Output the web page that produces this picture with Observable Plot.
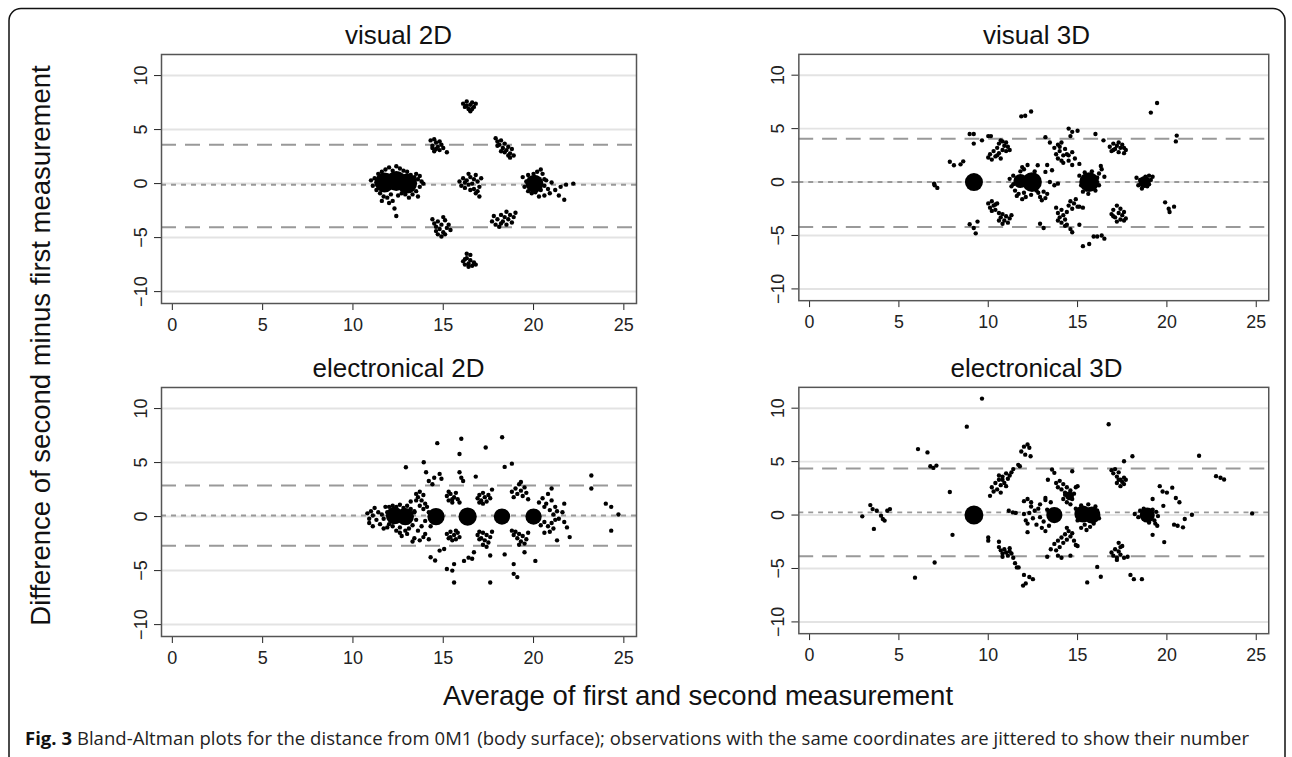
<!DOCTYPE html>
<html><head><meta charset="utf-8">
<script src="https://cdn.jsdelivr.net/npm/d3@7"></script>
<script src="https://cdn.jsdelivr.net/npm/@observablehq/plot@0.6"></script>
<style>
body{margin:0;background:#fff;}
#page{position:relative;width:1292px;height:757px;overflow:hidden;background:#fff;}
.panel{position:absolute;}
#overlay{position:absolute;left:0;top:0;pointer-events:none;}
</style></head>
<body><div id="page"></div>
<script>
// ---- data ----
const panelTitles = ["visual 2D", "visual 3D", "electronical 2D", "electronical 3D"];
const xTicks = [0, 5, 10, 15, 20, 25];
const yTicks = [-10, -5, 0, 5, 10];
const meanDiff = [-0.1, 0.0, 0.1, 0.25];
const upperLoA = [3.6, 4.05, 2.87, 4.35];
const lowerLoA = [-4.05, -4.2, -2.7, -3.85];
const xTitle = "Average of first and second measurement";
const yTitle = "Difference of second minus first measurement";
const captionBold = "Fig. 3";
const captionText = " Bland-Altman plots for the distance from 0M1 (body surface); observations with the same coordinates are jittered to show their number";

// individual (jittered) observations [average, difference]
const visual2D = [
[11.0,0.3],[11.1,-0.2],[11.2,0.5],[11.3,0.1],[11.3,-0.6],[11.4,0.9],[11.5,-0.9],[11.6,1.1],[11.7,-1.2],[11.6,-1.6],[11.9,-1.3],[12.0,-1.8],[12.1,-1.0],[12.2,-1.6],[12.3,-2.3],[12.4,-3.0],[11.8,1.3],[12.0,1.5],[12.2,1.2],[12.4,1.6],[12.5,0.9],[12.6,1.4],[12.8,1.2],[13.0,1.1],[13.2,0.8],[13.4,0.6],[13.6,0.4],[13.8,0.2],[13.9,0.0],[13.7,-0.3],[13.5,-0.7],[13.3,-1.0],[13.1,-1.3],[12.9,-1.0],[12.7,-0.9],[12.5,-1.1],[13.6,-1.2],[13.5,0.9],[13.7,0.7],
[14.3,4.0],[14.5,4.1],[14.6,3.8],[14.4,3.5],[14.7,3.4],[14.8,3.9],[14.6,3.2],[14.9,3.6],[14.5,3.0],[15.0,3.3],[15.2,2.9],[14.8,3.1],[14.4,3.3],
[16.1,7.4],[16.3,7.6],[16.5,7.3],[16.6,7.5],[16.2,7.1],[16.4,6.9],[16.7,7.1],[16.5,6.7],[16.3,7.2],[16.6,6.9],[16.8,7.4],
[15.9,0.2],[16.0,-0.2],[16.1,0.5],[16.2,-0.4],[16.3,0.3],[16.4,-0.1],[16.5,0.6],[16.6,0.0],[16.4,0.9],[16.7,0.4],[16.8,0.8],[16.9,0.2],[16.7,-0.5],[17.0,-0.3],[16.8,-0.9],[17.0,-1.2],[16.2,0.1],[16.5,-0.6],[16.9,-0.7],[17.1,0.5],
[17.9,4.2],[18.0,3.9],[18.1,3.6],[18.2,4.0],[18.3,3.3],[18.4,3.7],[18.5,3.1],[18.6,3.4],[18.2,3.0],[18.7,2.8],[18.8,3.2],[18.9,2.6],[18.6,2.6],[18.0,3.5],[18.4,2.9],[18.7,2.4],
[17.7,-3.5],[17.8,-3.0],[17.9,-3.8],[18.0,-3.3],[18.1,-4.0],[18.2,-2.9],[18.3,-3.5],[18.4,-3.1],[18.5,-2.6],[18.6,-3.3],[18.7,-2.9],[18.8,-3.6],[18.9,-3.1],[19.0,-2.7],[18.5,-3.8],[18.2,-3.7],
[14.4,-3.3],[14.5,-3.7],[14.6,-4.0],[14.7,-3.5],[14.8,-4.2],[14.9,-3.8],[15.0,-4.5],[15.1,-3.4],[15.2,-4.1],[15.3,-3.8],[14.7,-4.7],[14.9,-4.9],[15.0,-3.1],[15.4,-4.3],[14.6,-4.4],[15.1,-4.7],
[16.1,-7.2],[16.2,-7.5],[16.3,-6.9],[16.4,-7.4],[16.5,-7.1],[16.6,-7.6],[16.3,-6.5],[16.5,-6.6],[16.7,-7.3],[16.2,-7.0],[16.8,-7.5],[16.4,-7.7],
[19.4,0.6],[19.5,-0.3],[19.6,0.2],[19.7,0.8],[19.7,-0.7],[19.9,-0.9],[20.0,0.9],[20.2,1.1],[20.4,1.3],[20.5,0.9],[20.6,0.4],[20.4,-0.6],[20.3,-1.2],[20.1,-0.8],[20.6,-0.2],[20.8,-0.5],[20.7,0.3],[20.6,-1.1],[21.2,-0.6],[21.4,-1.1],[21.7,-1.5],[21.8,-0.1],[22.2,0.0],[21.5,-0.3],[20.9,-0.9],[21.0,0.1]
];
const visual3D = [
[7.0,-0.3],[7.15,-0.55],[6.97,-0.15],[7.85,1.9],[8.08,1.57],[8.45,1.66],[8.6,1.94],
[8.96,4.5],[9.19,4.5],[9.19,3.6],[9.65,3.9],[10.0,4.3],[10.15,4.3],
[8.96,-3.95],[9.19,-4.3],[9.3,-4.8],[9.4,-3.7],
[10.0,2.3],[10.1,2.6],[10.2,2.1],[10.3,2.9],[10.4,2.4],[10.5,3.2],[10.6,2.7],[10.6,3.6],[10.7,2.2],[10.8,3.0],[10.9,3.4],[10.8,3.8],[11.0,2.9],[11.1,3.3],[11.2,3.0],[10.7,3.9],[10.5,2.5],[11.0,3.7],
[10.0,-2.0],[10.1,-2.4],[10.2,-1.8],[10.3,-2.2],[10.4,-2.6],[10.2,-2.7],[10.5,-2.0],[10.6,-2.9],[10.7,-3.3],[10.8,-3.0],[10.9,-3.6],[11.0,-3.2],[11.1,-3.8],[11.2,-3.4],[10.8,-3.9],[10.6,-3.6],[11.3,-3.1],[10.4,-2.1],
[11.2,0.3],[11.3,-0.4],[11.4,0.6],[11.5,-0.8],[11.6,0.1],[11.7,-1.1],[11.8,1.0],[11.9,1.4],[12.0,1.2],[12.1,-1.4],[12.2,1.6],[11.9,-1.6],[12.4,-1.2],[12.6,1.0],[12.7,-0.8],[11.6,-1.3],[12.0,-1.0],[11.4,-0.2],
[12.8,-1.0],[12.9,-1.4],[13.1,-0.9],[13.2,-1.5],[13.3,-1.1],[13.0,-1.7],
[12.77,1.57],[13.2,0.95],[13.3,1.6],[13.57,1.1],[13.45,0.0],[13.7,-0.3],[13.9,-0.15],[13.2,4.2],[13.45,3.7],
[13.7,3.2],[13.8,2.6],[13.9,3.5],[14.0,2.9],[14.1,3.7],[14.2,2.5],[14.3,3.1],[13.9,2.2],[14.1,2.0],[14.4,2.6],[14.0,3.3],[14.2,1.8],
[14.5,5.0],[14.7,4.7],[15.0,4.8],[14.6,4.3],[14.5,2.0],[14.7,1.6],[14.85,2.2],[15.1,1.7],[14.5,2.5],[14.7,2.8],
[13.8,-2.4],[13.9,-2.9],[14.0,-3.3],[14.1,-2.6],[14.2,-3.1],[14.3,-3.5],[14.1,-3.8],[13.9,-3.6],[14.4,-2.8],[14.5,-2.2],[14.6,-1.8],[14.7,-2.5],[14.8,-2.0],[14.9,-1.6],[15.0,-2.3],[14.4,-4.0],[14.6,-4.4],[14.7,-4.7],[14.3,-4.1],[15.1,-4.0],[15.1,-2.3],[15.3,-2.4],
[12.9,-3.9],[13.1,-4.3],
[15.1,0.6],[15.2,-0.3],[15.3,-0.9],[15.4,0.9],[15.6,-1.1],[15.8,1.0],[16.0,-0.8],[16.1,0.4],[16.2,-0.3],[15.5,-0.7],
[16.2,0.8],[16.5,0.5],[16.35,1.2],[16.3,1.5],[16.0,4.5],[16.45,3.9],
[15.3,-6.0],[15.65,-5.8],[15.9,-5.1],[16.1,-5.1],[16.35,-5.0],[16.5,-5.3],
[16.8,3.3],[16.9,2.9],[17.0,3.6],[17.1,3.1],[17.2,3.4],[17.3,2.8],[17.4,3.2],[17.5,3.5],[17.6,2.7],[17.7,3.0],[17.3,3.7],[17.0,3.0],[17.6,3.2],
[16.9,-3.0],[17.0,-2.6],[17.1,-3.3],[17.2,-2.2],[17.3,-2.9],[17.4,-3.5],[17.5,-3.1],[17.6,-2.8],[17.7,-3.4],[17.2,-3.7],[17.4,-2.5],[17.0,-3.2],[17.6,-3.6],
[18.3,0.4],[18.4,-0.3],[18.6,-0.6],[18.8,0.5],[19.0,0.6],[19.1,0.2],[19.2,0.5],[18.9,-0.4],[18.5,0.2],[19.0,-0.2],
[19.1,6.5],[19.45,7.4],[19.9,-1.9],[20.15,-2.8],[20.4,-2.3],[20.1,-2.5],[20.55,4.35],[20.5,3.8],
[11.85,6.15],[12.07,6.2],[12.4,6.6]
];
const electronical2D = [
[10.8,0.3],[10.9,-0.2],[10.9,-0.6],[11.0,0.5],[11.1,0.1],[11.1,-0.9],[11.2,0.8],[11.3,-0.3],[11.4,0.4],[11.5,-0.7],[11.6,0.2],[11.7,-0.2],[11.8,0.9],[11.9,-1.0],[11.7,-1.1],
[12.0,0.9],[12.2,1.0],[12.4,0.9],[12.6,1.1],[12.8,0.8],[13.0,1.0],[13.2,0.7],[13.4,0.4],[13.5,-0.3],[13.3,-0.8],[13.1,-1.1],[12.9,-1.3],[12.6,-1.0],[12.4,-1.3],[12.2,-0.9],[12.0,-0.7],[12.6,-1.5],[13.0,-1.6],[11.9,0.4],[12.7,-1.8],
[13.5,2.1],[13.6,1.8],[13.7,2.3],[13.8,1.5],[13.9,2.0],[14.0,1.2],[13.7,1.0],[13.9,0.7],[14.1,0.9],[14.2,0.4],[14.0,-0.4],[13.8,-0.9],[13.6,-1.3],[13.4,-2.0],[13.7,-2.2],[14.0,-1.6],[14.2,-2.1],[13.9,-1.9],[13.3,-2.3],[14.3,-0.9],[13.5,1.5],[13.2,1.4],[13.4,0.5],
[12.93,4.57],[13.92,5.03],[14.05,4.1],[14.67,6.8],[14.5,3.6],[14.4,3.0],[14.8,3.95],[14.2,3.3],[14.9,3.5],
[14.3,-3.76],[14.55,-4.07],[14.8,-3.15],[15.05,-3.0],[15.2,-4.85],[15.5,-5.0],[15.6,-6.1],[15.6,-4.4],
[15.2,1.9],[15.3,1.5],[15.4,2.1],[15.5,1.3],[15.6,1.8],[15.7,2.2],[15.8,1.6],[15.5,1.6],[15.3,2.3],[15.9,1.3],
[15.2,-1.6],[15.3,-2.0],[15.4,-1.4],[15.5,-2.2],[15.6,-1.7],[15.7,-2.1],[15.8,-1.5],[15.9,-1.9],[15.4,-1.9],[15.7,-1.3],
[15.9,4.1],[16.0,3.6],[16.1,3.3],[16.8,3.7],[15.9,5.8],[16.0,7.2],
[16.15,-4.1],[16.4,-3.8],[16.6,-3.9],[16.7,-3.3],
[16.9,1.7],[17.0,2.0],[17.1,1.5],[17.2,2.2],[17.3,1.8],[17.4,1.4],[17.5,2.0],[17.6,1.7],[17.7,2.5],[17.2,1.2],[17.0,1.3],
[16.9,-1.7],[17.0,-1.4],[17.1,-2.0],[17.2,-1.5],[17.3,-2.2],[17.4,-1.7],[17.5,-2.4],[17.6,-1.9],[17.2,-2.6],[17.0,-2.1],[17.7,-1.4],[17.4,-2.8],
[17.35,6.4],[17.6,-3.6],[17.6,-6.1],[18.26,7.35],[18.4,4.6],[18.8,4.9],
[18.8,2.3],[18.9,1.8],[19.0,2.6],[19.1,2.1],[19.2,3.0],[19.3,2.4],[19.4,1.9],[19.5,2.7],[19.6,2.2],[19.3,3.2],[19.7,1.6],
[18.8,-1.3],[18.9,-1.7],[19.0,-1.4],[19.1,-2.0],[19.2,-1.6],[19.3,-2.3],[19.4,-1.8],[19.5,-2.5],[19.6,-2.1],[19.7,-1.5],[19.2,-2.6],
[18.9,-4.4],[18.9,-5.3],[19.1,-5.6],[19.5,-3.3],[20.1,-4.1],[18.4,-3.5],
[20.3,1.3],[20.5,1.7],[20.6,0.9],[20.7,1.2],[20.8,2.1],[20.9,0.6],[21.0,1.5],[21.1,0.2],[21.2,0.9],[20.6,-0.5],[20.8,-0.9],[20.9,-1.4],[21.0,-0.6],[21.1,-1.1],[21.2,-0.3],[20.4,-0.8],[20.6,-1.5],[21.0,2.6],[21.3,0.5],[21.4,-0.2],
[21.7,1.2],[21.7,-0.5],[21.85,-1.0],[22.0,-1.9],[21.3,-2.2],[21.6,0.4],
[23.2,3.8],[23.2,2.6],[24.0,1.2],[24.3,0.9],[24.7,0.2],[24.3,-1.3]
];
const electronical3D = [
[2.95,-0.12],[3.4,0.93],[3.6,-1.3],[3.76,0.4],[4.0,-0.06],[4.1,-0.37],[4.2,-0.52],[4.35,0.4],[4.5,0.56],[3.53,0.56],
[5.9,-5.86],[6.07,6.17],[6.6,5.86],[6.76,4.57],[6.93,4.41],[7.1,4.63],[7.0,-4.44],[7.85,2.16],[8.0,-1.85],[8.8,8.27],[9.65,10.9],
[10.2,2.6],[10.3,2.2],[10.4,3.0],[10.5,2.4],[10.6,3.3],[10.7,2.8],[10.8,3.6],[10.9,3.0],[11.0,3.9],[11.1,3.4],[11.2,3.7],[11.3,4.0],[11.4,4.3],[10.7,2.1],[10.8,3.3],[11.0,2.7],[10.6,3.7],[10.1,1.8],
[11.68,4.7],[11.77,4.57],[11.85,5.95],[12.0,6.4],[12.2,6.6],[12.3,6.3],[12.37,5.5],[12.07,5.65],
[11.15,0.4],[11.38,0.25],[11.54,0.2],
[10.0,-2.1],[10.0,-2.4],[10.6,-2.5],[10.6,-3.0],[10.7,-3.3],[10.8,-3.6],[10.9,-3.2],[11.0,-3.5],[11.1,-3.8],[11.2,-3.4],[11.3,-3.6],[11.4,-4.0],[11.5,-4.5],[11.6,-4.9],[11.7,-4.9],[10.8,-3.9],[11.2,-3.1],
[12.0,-5.6],[12.1,-6.4],[12.3,-5.8],[12.5,-6.0],[11.95,-6.6],
[12.0,1.3],[12.2,1.5],[12.4,1.2],[12.6,0.4],[12.1,-0.5],[12.2,-0.8],[12.3,0.2],[12.5,-0.3],[12.7,-0.9],[12.8,0.6],[12.9,1.0],[13.0,-1.2],[13.1,-0.6],[13.2,-1.5],[13.3,0.5],[13.4,-1.0],[13.2,1.4],[12.2,-1.6],[12.9,-0.2],[12.0,0.1],[13.5,1.2],[12.4,0.8],
[13.2,1.6],[13.34,3.3],[13.57,4.26],[13.7,3.95],
[13.8,3.0],[13.9,2.6],[14.0,3.2],[14.1,2.4],[14.2,2.9],[14.3,2.1],[14.4,2.6],[14.5,1.8],[14.6,2.3],[14.7,1.5],[14.8,2.0],[14.9,2.6],[15.0,2.7],[14.4,1.2],[14.6,1.0],[14.2,1.5],[14.7,4.1],[14.5,2.0],[14.6,1.6],[14.3,1.9],
[14.9,0.6],[15.0,-0.5],[15.2,0.9],[15.4,-0.9],[15.6,1.0],[15.9,-0.8],[16.1,0.4],[16.2,-0.3],[15.2,-1.2],[15.5,-1.4],[16.0,0.8],[15.7,-1.1],
[13.5,-3.2],[13.7,-2.7],[13.8,-3.3],[13.9,-2.4],[14.0,-3.0],[14.1,-2.1],[14.2,-2.6],[14.3,-1.8],[14.4,-2.3],[14.5,-1.5],[14.6,-2.0],[14.7,-1.7],[14.8,-2.4],[14.9,-2.8],[13.9,-3.8],[14.1,-4.0],[14.6,-3.8],[13.3,-3.9],[15.0,-2.9],[14.4,-1.2],
[15.54,-6.3],[16.1,-4.85],[16.3,-5.77],[16.74,8.5],[17.6,5.03],[18.07,5.5],
[16.9,4.2],[17.0,3.9],[17.1,4.3],[17.2,3.6],[17.3,4.0],[17.4,3.3],[17.5,3.1],[17.6,3.5],[17.2,3.0],[17.4,2.7],[17.6,2.9],[17.7,3.3],[17.3,3.3],
[16.9,-3.5],[17.0,-3.8],[17.1,-3.2],[17.2,-4.0],[17.3,-3.4],[17.4,-3.7],[17.5,-2.9],[17.3,-2.6],[17.6,-4.0],[17.8,-3.9],[17.2,-4.2],[17.4,-3.0],
[17.96,-5.6],[18.15,-6.0],[18.6,-6.0],
[18.2,0.1],[18.4,-0.2],[18.5,0.4],[19.2,0.5],[19.3,-0.5],[19.4,0.3],[19.0,-0.7],[18.7,0.6],[19.5,-0.1],
[19.2,1.5],[19.2,-1.85],[19.35,-0.8],[19.46,-1.0],[19.6,2.7],[19.76,2.2],[20.0,2.1],[20.3,2.56],[19.8,0.86],[19.85,-2.53],[20.5,1.6],[20.7,1.2],[20.4,-0.9],[20.6,-1.0],[20.9,-1.15],[21.0,-0.37],[21.4,0.03],
[21.8,5.55],[22.75,3.64],[23.0,3.49],[23.2,3.33],[24.77,0.15]
];
// dense piles of identical observations [average, difference, count]
const visual2DPiles = [[11.75,0.1,60],[12.4,0.25,60],[13.0,0.0,60],[20.05,0.0,48]];
const visual3DPiles = [[9.2,0.0,50],[11.8,0.1,30],[12.45,0.0,60],[15.65,0.0,60],[18.75,0.0,22]];
const electronical2DPiles = [[12.3,0.1,45],[12.9,0.0,45],[14.6,0.0,45],[16.35,0.0,50],[18.25,0.0,40],[20.0,0.0,40]];
const electronical3DPiles = [[9.2,0.0,55],[13.7,0.0,40],[15.3,0.1,45],[15.8,0.0,45],[18.9,0.0,35],[14.55,1.8,12]];

const panelPoints = [visual2D, visual3D, electronical2D, electronical3D];
const panelPiles = [visual2DPiles, visual3DPiles, electronical2DPiles, electronical3DPiles];

// ---- layout ----
const page = document.getElementById("page");
const panelPos = [[100,40],[738,40],[100,373],[738,373]];
const FONT = "'Liberation Sans', Arial, Helvetica, sans-serif";

function makePanel(i) {
  return Plot.plot({
    width: 560, height: 310,
    marginLeft: 61, marginRight: 24, marginTop: 14, marginBottom: 47,
    style: {fontFamily: FONT, fontSize: "18px", color: "#222", background: "transparent", overflow: "visible"},
    x: {domain: [-0.6, 25.7], ticks: xTicks, tickSize: 7, tickPadding: 8, label: null},
    y: {domain: [-11.1, 11.95], ticks: yTicks, tickSize: 7, tickPadding: 8, tickRotate: -90, label: null},
    r: {type: "sqrt", domain: [0, 60], range: [0, 10]},
    marks: [
      Plot.ruleY(yTicks, {stroke: "#e3e3e3", strokeWidth: 2}),
      Plot.ruleY([upperLoA[i], lowerLoA[i]], {stroke: "#999", strokeWidth: 2, strokeDasharray: "15,9"}),
      Plot.ruleY([meanDiff[i]], {stroke: "#999", strokeWidth: 2, strokeDasharray: "5,5"}),
      Plot.dot(panelPiles[i], {x: d => d[0], y: d => d[1], r: d => d[2], fill: "#000", stroke: null}),
      Plot.dot(panelPoints[i], {x: d => d[0], y: d => d[1], r: 2.2, fill: "#000", stroke: null}),
      Plot.frame({stroke: "#555", strokeWidth: 1.5})
    ]
  });
}

panelTitles.forEach((t, i) => {
  const wrap = document.createElement("div");
  wrap.className = "panel";
  wrap.style.left = panelPos[i][0] + "px";
  wrap.style.top = panelPos[i][1] + "px";
  wrap.appendChild(makePanel(i));
  page.appendChild(wrap);
});

// ---- overlay texts ----
const svg = d3.select(page).append("svg").attr("id", "overlay")
  .attr("width", 1292).attr("height", 757);
svg.append("rect").attr("x", 9).attr("y", 8.5).attr("width", 1276).attr("height", 762)
  .attr("rx", 12).attr("fill", "none").attr("stroke", "#111").attr("stroke-width", 1.5);
const titleCenters = [[398.5,44],[1036.5,44],[398.5,377],[1036.5,377]];
panelTitles.forEach((t, i) => {
  svg.append("text").attr("x", titleCenters[i][0]).attr("y", titleCenters[i][1])
    .attr("text-anchor", "middle").attr("font-family", FONT).attr("font-size", 26)
    .attr("fill", "#111").text(t);
});
svg.append("text").attr("x", 698).attr("y", 705).attr("text-anchor", "middle")
  .attr("font-family", FONT).attr("font-size", 27.5).attr("fill", "#111").text(xTitle);
svg.append("text").attr("transform", "translate(50,345.5) rotate(-90)").attr("text-anchor", "middle")
  .attr("font-family", FONT).attr("font-size", 27.5).attr("fill", "#111").text(yTitle);
const cap = svg.append("text").attr("x", 25).attr("y", 745)
  .attr("font-family", "'Open Sans', 'Noto Sans', sans-serif").attr("font-size", 18.5).attr("fill", "#222")
  .attr("textLength", 1224).attr("lengthAdjust", "spacing");
cap.append("tspan").attr("font-weight", "bold").attr("fill", "#111").text(captionBold);
cap.append("tspan").text(captionText);
</script>
</body></html>
